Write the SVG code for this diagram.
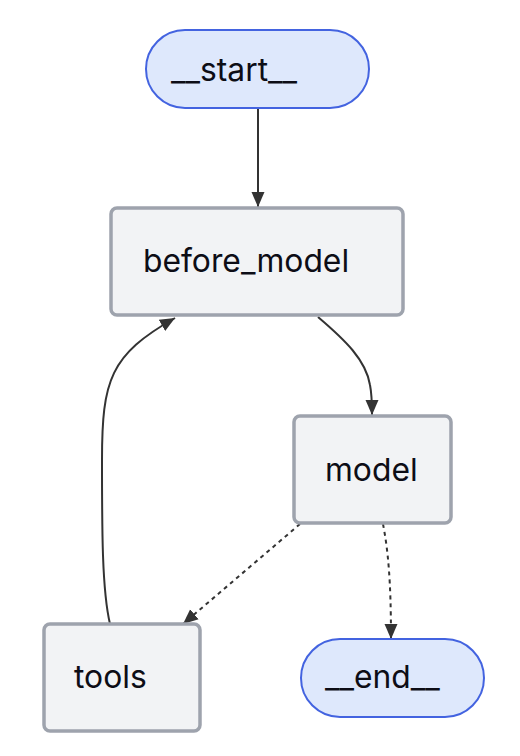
<svg xmlns="http://www.w3.org/2000/svg" width="520" height="756" viewBox="0 0 520 756">
<style>
.term{fill:#dee8fc;stroke:#4363e0;stroke-width:2}
.box{fill:#f2f3f5;stroke:#9ea3ad;stroke-width:3.5}
.lbl{font-family:Inter,"Noto Sans",sans-serif;font-size:31.8px;fill:#0d0d16}
.edge{fill:none;stroke:#333;stroke-width:2}
.dash{stroke-dasharray:4 4}
</style>
<defs>
<marker id="ah" markerUnits="userSpaceOnUse" markerWidth="16" markerHeight="16" viewBox="0 0 16 16" refX="15" refY="8" orient="auto">
<path d="M0,1.5 L15,8 L0,14.5 Z" fill="#333"/>
</marker>
</defs>
<rect width="520" height="756" fill="#fff"/>
<g id="edges">
<path class="edge" d="M258,108 L258,207" marker-end="url(#ah)"/>
<path class="edge" d="M318,317 C345,340 366,360 370,385 C372,395 372,405 372,415" marker-end="url(#ah)"/>
<path class="edge" d="M110,624 C102,590 102,530 102,460 C102,380 110,355 175,318" marker-end="url(#ah)"/>
<path class="edge dash" d="M300,524 L183,624" marker-end="url(#ah)"/>
<path class="edge dash" d="M383,524 C388,550 391,580 391,639" marker-end="url(#ah)"/>
</g>
<g id="start"><rect class="term" x="146" y="30" width="223" height="78" rx="39"/><text class="lbl" x="171" y="81">__start__</text></g>
<g id="before_model"><rect class="box" x="111" y="208" width="292" height="107" rx="6"/><text class="lbl" x="143" y="272">before_model</text></g>
<g id="model"><rect class="box" x="294" y="416" width="157" height="107" rx="6"/><text class="lbl" x="325" y="481">model</text></g>
<g id="tools"><rect class="box" x="44" y="624" width="156" height="107" rx="6"/><text class="lbl" x="74" y="688">tools</text></g>
<g id="end"><rect class="term" x="301" y="639" width="183" height="78" rx="39"/><text class="lbl" x="325" y="688">__end__</text></g>
</svg>
